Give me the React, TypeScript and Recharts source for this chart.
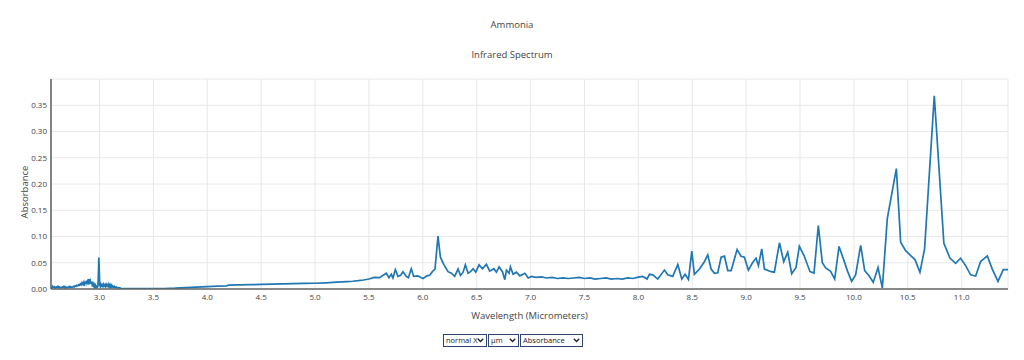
import {
  LineChart,
  Line,
  XAxis,
  YAxis,
  CartesianGrid,
} from "recharts";

// wavelength (µm) and absorbance
const wavelengthUm = [
  2.55, 2.558, 2.566, 2.574, 2.582, 2.59, 2.598, 2.606, 2.614, 2.622,
  2.63, 2.638, 2.646, 2.654, 2.662, 2.67, 2.678, 2.686, 2.694, 2.702,
  2.71, 2.718, 2.726, 2.734, 2.742, 2.75, 2.758, 2.766, 2.774, 2.782,
  2.79, 2.798, 2.806, 2.814, 2.822, 2.83, 2.838, 2.846, 2.854, 2.86,
  2.866, 2.872, 2.878, 2.884, 2.89, 2.896, 2.902, 2.908, 2.914, 2.92,
  2.926, 2.932, 2.938, 2.944, 2.95, 2.956, 2.962, 2.968, 2.974, 2.98,
  2.986, 2.99, 2.994, 2.998, 3.002, 3.008, 3.014, 3.02, 3.026, 3.032,
  3.038, 3.044, 3.05, 3.056, 3.062, 3.068, 3.074, 3.08, 3.086, 3.092,
  3.098, 3.104, 3.11, 3.116, 3.122, 3.13, 3.138, 3.146, 3.154, 3.162,
  3.17, 3.18, 3.19, 3.2, 3.25, 3.3, 3.4, 3.5, 3.6, 3.7,
  3.8, 3.9, 4.0, 4.1, 4.18, 4.2, 4.3, 4.4, 4.5, 4.6,
  4.7, 4.8, 4.9, 5.0, 5.1, 5.2, 5.3, 5.35, 5.4, 5.45,
  5.5, 5.55, 5.599, 5.661, 5.686, 5.708, 5.723, 5.745, 5.77, 5.794,
  5.816, 5.847, 5.866, 5.893, 5.915, 5.955, 5.986, 6.002, 6.039, 6.064,
  6.089, 6.113, 6.141, 6.163, 6.194, 6.234, 6.265, 6.296, 6.327, 6.349,
  6.374, 6.395, 6.42, 6.442, 6.467, 6.491, 6.522, 6.553, 6.59, 6.621,
  6.659, 6.683, 6.708, 6.739, 6.761, 6.776, 6.801, 6.813, 6.838, 6.869,
  6.9, 6.947, 6.978, 7.009, 7.05, 7.1, 7.15, 7.2, 7.25, 7.3,
  7.35, 7.4, 7.45, 7.5, 7.55, 7.6, 7.65, 7.7, 7.75, 7.8,
  7.85, 7.9, 7.95, 8.0, 8.041, 8.081, 8.103, 8.134, 8.18, 8.242,
  8.273, 8.319, 8.366, 8.403, 8.434, 8.465, 8.496, 8.52, 8.567, 8.613,
  8.644, 8.675, 8.706, 8.737, 8.768, 8.799, 8.83, 8.861, 8.916, 8.953,
  8.984, 9.021, 9.062, 9.092, 9.114, 9.145, 9.17, 9.232, 9.262, 9.309,
  9.349, 9.386, 9.423, 9.463, 9.494, 9.537, 9.593, 9.63, 9.67, 9.707,
  9.738, 9.784, 9.822, 9.862, 9.908, 9.939, 9.979, 10.016, 10.063, 10.1,
  10.14, 10.18, 10.224, 10.264, 10.31, 10.394, 10.434, 10.48, 10.527, 10.567,
  10.613, 10.656, 10.746, 10.835, 10.891, 10.944, 10.99, 11.037, 11.083, 11.13,
  11.176, 11.238, 11.284, 11.337, 11.386, 11.43,
];

const absorbance = [
  0.004, 0.002, 0.005, 0.003, 0.004, 0.002, 0.004, 0.003, 0.005, 0.002,
  0.004, 0.003, 0.002, 0.004, 0.003, 0.005, 0.002, 0.004, 0.003, 0.002,
  0.004, 0.003, 0.005, 0.003, 0.004, 0.003, 0.005, 0.004, 0.006, 0.005,
  0.007, 0.006, 0.008, 0.007, 0.01, 0.008, 0.012, 0.009, 0.013, 0.006,
  0.014, 0.01, 0.016, 0.011, 0.015, 0.012, 0.019, 0.013, 0.016, 0.01,
  0.014, 0.008, 0.011, 0.006, 0.009, 0.004, 0.007, 0.003, 0.005, 0.003,
  0.006, 0.03, 0.06, 0.035, 0.008, 0.005, 0.009, 0.006, 0.008, 0.005,
  0.009, 0.006, 0.008, 0.005, 0.009, 0.006, 0.008, 0.005, 0.009, 0.005,
  0.008, 0.004, 0.007, 0.004, 0.006, 0.003, 0.005, 0.003, 0.004, 0.002,
  0.003, 0.002, 0.002, 0.001, 0.001, 0.001, 0.001, 0.0008, 0.001, 0.0015,
  0.0025, 0.0035, 0.0045, 0.0055, 0.006, 0.0075, 0.0078, 0.0082, 0.0088, 0.0092,
  0.0097, 0.0102, 0.0106, 0.011, 0.0118, 0.013, 0.0142, 0.0148, 0.0158, 0.0172,
  0.019, 0.022, 0.0215, 0.03, 0.0215, 0.028, 0.021, 0.037, 0.024, 0.026,
  0.033, 0.024, 0.0215, 0.0386, 0.024, 0.025, 0.0215, 0.02, 0.025, 0.026,
  0.033, 0.038, 0.1006, 0.061, 0.047, 0.033, 0.03, 0.024, 0.038, 0.026,
  0.032, 0.046, 0.03, 0.033, 0.0386, 0.032, 0.046, 0.0386, 0.047, 0.034,
  0.0386, 0.032, 0.042, 0.033, 0.0177, 0.036, 0.03, 0.042, 0.028, 0.032,
  0.025, 0.03, 0.021, 0.024, 0.022, 0.023, 0.021, 0.022, 0.02, 0.021,
  0.02, 0.021, 0.022, 0.02, 0.021, 0.019, 0.02, 0.021, 0.019, 0.02,
  0.019, 0.021, 0.02, 0.0225, 0.024, 0.019, 0.028, 0.027, 0.019, 0.036,
  0.027, 0.024, 0.0465, 0.019, 0.028, 0.018, 0.072, 0.028, 0.038, 0.052,
  0.065, 0.038, 0.03, 0.031, 0.0605, 0.0625, 0.035, 0.035, 0.075, 0.0625,
  0.0605, 0.036, 0.051, 0.0586, 0.0446, 0.0765, 0.038, 0.033, 0.032, 0.088,
  0.052, 0.07, 0.029, 0.041, 0.0816, 0.0637, 0.033, 0.0305, 0.121, 0.05,
  0.04, 0.0337, 0.019, 0.081, 0.054, 0.035, 0.0146, 0.027, 0.083, 0.035,
  0.0254, 0.0127, 0.041, 0.0018, 0.134, 0.2294, 0.089, 0.073, 0.0637, 0.056,
  0.032, 0.0765, 0.368, 0.087, 0.059, 0.049, 0.0586, 0.0446, 0.027, 0.0248,
  0.0523, 0.063, 0.038, 0.0146, 0.037, 0.037,
];

const xTicks = [3, 3.5, 4, 4.5, 5, 5.5, 6, 6.5, 7, 7.5, 8, 8.5, 9, 9.5, 10, 10.5, 11];
const yTicks = [0, 0.05, 0.1, 0.15, 0.2, 0.25, 0.3, 0.35];
const scaleOptions = ["normal X"];
const unitOptions = ["µm"];
const modeOptions = ["Absorbance"];

const FONT = "'Open Sans', sans-serif";
const TEXT = "#444";
const FRAME = "#666";

const data = wavelengthUm.map((w, i) => ({ w, a: absorbance[i] }));

// small native-looking dropdown with its own chevron so the text isn't clipped
function Dropdown({ options, width }: { options: string[]; width: number }) {
  return (
    <div style={{ position: "relative", width, height: 13, marginRight: 1 }}>
      <select
        defaultValue={options[0]}
        style={{
          display: "block",
          appearance: "none",
          WebkitAppearance: "none",
          width,
          height: 13,
          boxSizing: "border-box",
          fontSize: 7.5,
          lineHeight: "11px",
          fontFamily: FONT,
          padding: "0 0 0 2px",
          margin: 0,
          border: "1px solid #2d4470",
          borderRadius: 0,
          background: "#fff",
          color: "#222",
        }}
      >
        {options.map((o) => (
          <option key={o}>{o}</option>
        ))}
      </select>
      <svg
        width={7}
        height={5}
        viewBox="0 0 7 5"
        style={{ position: "absolute", right: 3, top: 4, pointerEvents: "none" }}
      >
        <path d="M0.8 0.8 L3.5 3.6 L6.2 0.8" fill="none" stroke="#222" strokeWidth={1.4} />
      </svg>
    </div>
  );
}

export default function App() {
  return (
    <div
      style={{
        position: "absolute",
        left: 0,
        top: 0,
        width: 1024,
        height: 360,
        background: "#fff",
        fontFamily: FONT,
        color: TEXT,
      }}
    >
      <div style={{ position: "absolute", top: 18, width: 1024, textAlign: "center", fontSize: 9.5, lineHeight: "14px" }}>
        Ammonia
      </div>
      <div style={{ position: "absolute", top: 48, width: 1024, textAlign: "center", fontSize: 9.5, lineHeight: "14px" }}>
        Infrared Spectrum
      </div>

      <LineChart
        width={1024}
        height={360}
        data={data}
        margin={{ top: 79, right: 16, bottom: 31, left: 0 }}
        style={{ position: "absolute", left: 0, top: 0 }}
      >
        <CartesianGrid stroke="#e8e8e8" strokeWidth={1} />
        <XAxis
          dataKey="w"
          type="number"
          domain={[2.55, 11.43]}
          ticks={xTicks}
          allowDataOverflow
          height={40}
          tickSize={0}
          tickMargin={5}
          tickFormatter={(v: number) => v.toFixed(1)}
          tick={{ fill: TEXT, fontSize: 8, fontFamily: FONT }}
          axisLine={{ stroke: FRAME, strokeWidth: 1.6 }}
          tickLine={false}
          label={{
            content: () => (
              <text
                x={529.5}
                y={315}
                textAnchor="middle"
                dominantBaseline="central"
                fill={TEXT}
                fontSize={9.5}
                fontFamily={FONT}
              >
                Wavelength (Micrometers)
              </text>
            ),
          }}
        />
        <XAxis
          xAxisId="top"
          orientation="top"
          dataKey="w"
          type="number"
          domain={[2.55, 11.43]}
          height={0}
          tick={false}
          tickLine={false}
          axisLine={{ stroke: FRAME, strokeWidth: 1.6 }}
        />
        <YAxis
          type="number"
          domain={[0, 0.4]}
          ticks={yTicks}
          allowDataOverflow
          width={51}
          tickSize={0}
          tickMargin={4}
          tickFormatter={(v: number) => v.toFixed(2)}
          tick={{ fill: TEXT, fontSize: 8, fontFamily: FONT }}
          axisLine={{ stroke: FRAME, strokeWidth: 1.6 }}
          tickLine={false}
          label={{
            content: () => (
              <text
                transform="translate(24,192) rotate(-90)"
                textAnchor="middle"
                dominantBaseline="central"
                fill={TEXT}
                fontSize={9.5}
                fontFamily={FONT}
              >
                Absorbance
              </text>
            ),
          }}
        />
        <YAxis
          yAxisId="right"
          orientation="right"
          type="number"
          domain={[0, 0.4]}
          width={0}
          tick={false}
          tickLine={false}
          axisLine={{ stroke: FRAME, strokeWidth: 1.6 }}
        />
        <Line
          type="linear"
          dataKey="a"
          stroke="#1f77b4"
          strokeWidth={1.7}
          dot={false}
          activeDot={false}
          isAnimationActive={false}
        />
      </LineChart>

      <div style={{ position: "absolute", top: 334, left: 443, display: "flex" }}>
        <Dropdown options={scaleOptions} width={44} />
        <Dropdown options={unitOptions} width={31} />
        <Dropdown options={modeOptions} width={63} />
      </div>
    </div>
  );
}
